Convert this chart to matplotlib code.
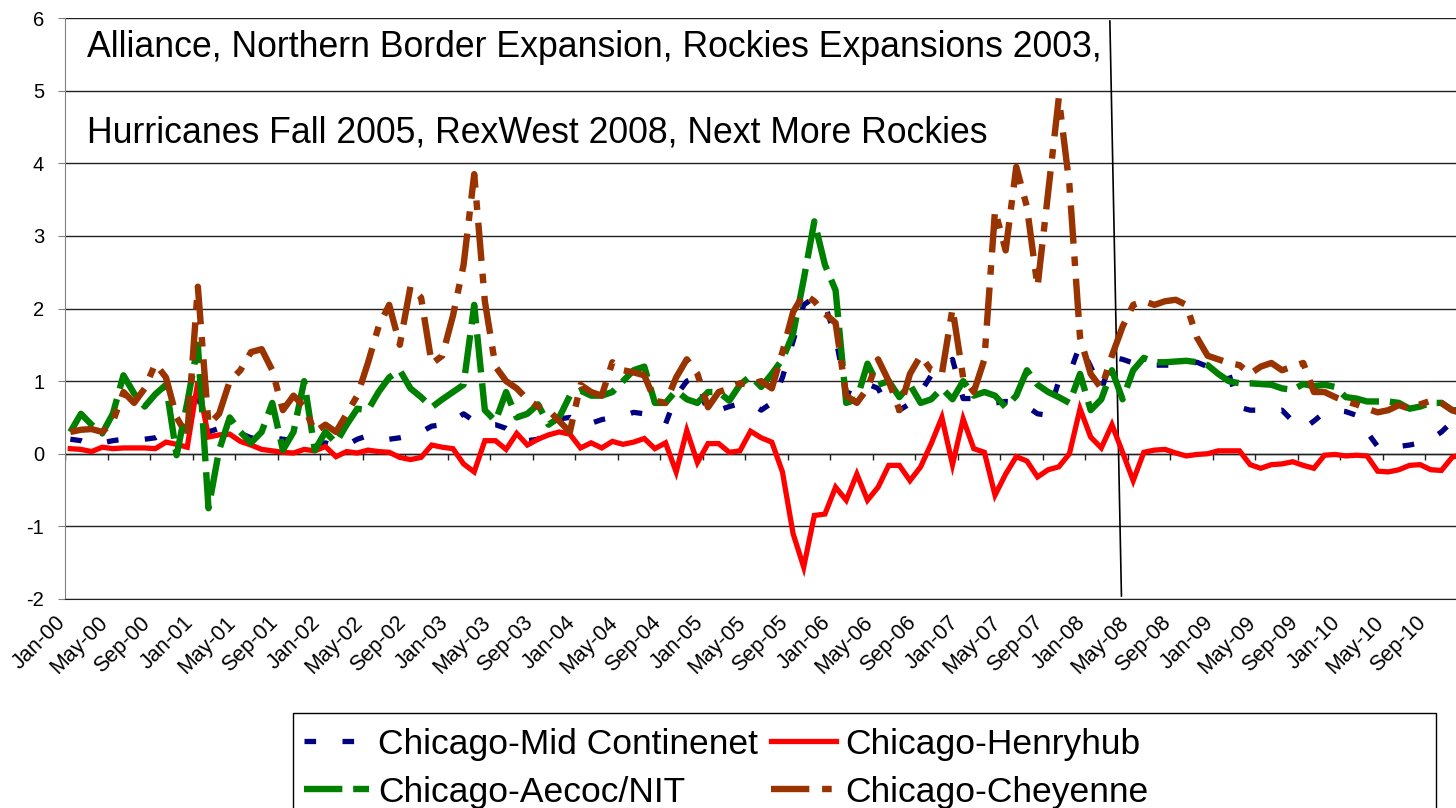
import numpy as np
import pandas as pd
import matplotlib
matplotlib.use('Agg')
import matplotlib.pyplot as plt
from matplotlib.patches import Rectangle
import matplotlib.transforms as mtransforms

plt.rcParams['font.family'] = ['Liberation Sans', 'DejaVu Sans']
plt.rcParams['axes.unicode_minus'] = False

# monthly categories Jan-00 .. Dec-10
months = pd.date_range('2000-01-01', periods=132, freq='MS').strftime('%b-%y').tolist()

mid_continent = [
    0.20, 0.18, 0.12, 0.15, 0.18, 0.20, 0.20, 0.20, 0.22, 0.30, 0.30, 0.35,
    0.80, 0.30, 0.35, 0.30, 0.28, 0.22, 0.20, 0.22, 0.20, 0.18, 0.15, 0.12,
    0.15, 0.10, 0.12, 0.20, 0.25, 0.22, 0.20, 0.22, 0.25, 0.30, 0.38, 0.40,
    0.45, 0.55, 0.45, 0.40, 0.40, 0.35, 0.25, 0.18, 0.20, 0.30, 0.48, 0.50,
    0.40, 0.42, 0.47, 0.50, 0.52, 0.57, 0.55, 0.50, 0.41, 0.80, 1.00, 1.05,
    0.54, 0.60, 0.65, 0.69, 0.70, 0.60, 0.70, 1.05, 1.55, 2.05, 2.15, 2.05,
    1.60, 0.85, 0.80, 0.96, 0.90, 0.62, 0.60, 0.69, 0.85, 1.08, 1.15, 1.30,
    0.76, 0.76, 0.75, 0.70, 0.72, 0.71, 0.65, 0.55, 0.53, 1.00, 1.10, 1.50,
    1.20, 0.87, 1.33, 1.30, 1.25, 1.24, 1.22, 1.22, 1.22, 1.24, 1.26, 1.20,
    1.15, 1.10, 0.64, 0.60, 0.60, 0.58, 0.60, 0.45, 0.34, 0.45, 0.57, 0.60,
    0.58, 0.53, 0.30, 0.10, 0.08, 0.10, 0.12, 0.15, 0.20, 0.30, 0.44, 0.50,
]

henryhub = [
    0.07, 0.06, 0.03, 0.09, 0.07, 0.08, 0.08, 0.08, 0.07, 0.16, 0.13, 0.09,
    0.99, 0.23, 0.26, 0.27, 0.17, 0.12, 0.06, 0.04, 0.02, 0.01, 0.06, 0.04,
    0.10, -0.04, 0.03, 0.01, 0.05, 0.03, 0.02, -0.05, -0.08, -0.05, 0.12, 0.09,
    0.07, -0.14, -0.25, 0.18, 0.18, 0.06, 0.28, 0.12, 0.20, 0.26, 0.30, 0.27,
    0.08, 0.15, 0.08, 0.17, 0.13, 0.16, 0.21, 0.07, 0.15, -0.25, 0.32, -0.12,
    0.14, 0.14, 0.02, 0.04, 0.31, 0.22, 0.16, -0.25, -1.10, -1.56, -0.85, -0.83,
    -0.46, -0.64, -0.28, -0.64, -0.46, -0.16, -0.16, -0.37, -0.18, 0.14, 0.50, -0.15,
    0.48, 0.07, 0.02, -0.57, -0.28, -0.04, -0.10, -0.32, -0.22, -0.18, 0.00, 0.62,
    0.23, 0.08, 0.40, 0.02, -0.37, 0.02, 0.05, 0.06, 0.01, -0.03, -0.01, 0.00,
    0.04, 0.04, 0.04, -0.15, -0.20, -0.15, -0.14, -0.11, -0.16, -0.20, -0.02, -0.01,
    -0.03, -0.02, -0.03, -0.24, -0.25, -0.22, -0.16, -0.15, -0.22, -0.23, -0.05, 0.00,
]

aeco_nit = [
    0.30, 0.55, 0.40, 0.28, 0.55, 1.08, 0.83, 0.65, 0.82, 0.95, -0.02, 0.70,
    1.50, -0.75, 0.05, 0.50, 0.30, 0.15, 0.30, 0.70, 0.05, 0.30, 1.00, 0.05,
    0.30, 0.15, 0.40, 0.62, 0.60, 0.85, 1.05, 1.15, 0.90, 0.78, 0.64, 0.75,
    0.85, 0.95, 2.05, 0.60, 0.45, 0.85, 0.50, 0.55, 0.68, 0.40, 0.50, 0.80,
    0.87, 0.80, 0.80, 0.85, 1.00, 1.15, 1.20, 0.70, 0.70, 0.87, 0.75, 0.70,
    0.85, 0.85, 0.73, 0.95, 1.07, 0.92, 1.10, 1.30, 1.65, 2.40, 3.20, 2.60,
    2.25, 0.70, 0.75, 1.24, 0.95, 1.00, 0.78, 0.95, 0.70, 0.75, 0.90, 0.75,
    1.00, 0.80, 0.85, 0.80, 0.64, 0.80, 1.15, 0.95, 0.85, 0.78, 0.70, 1.10,
    0.60, 0.75, 1.15, 0.75, 1.15, 1.32, 1.26, 1.26, 1.27, 1.28, 1.26, 1.22,
    1.10, 1.00, 0.97, 0.97, 0.96, 0.95, 0.90, 0.88, 0.96, 0.93, 0.95, 0.92,
    0.78, 0.76, 0.72, 0.72, 0.72, 0.70, 0.62, 0.65, 0.70, 0.70, 0.60, 0.60,
]

cheyenne = [
    0.30, 0.33, 0.34, 0.30, 0.44, 0.85, 0.70, 0.90, 1.24, 1.05, 0.50, 0.25,
    2.30, 0.40, 0.55, 1.00, 1.15, 1.40, 1.44, 1.15, 0.60, 0.80, 0.65, 0.30,
    0.40, 0.30, 0.55, 0.80, 1.25, 1.75, 2.05, 1.50, 2.30, 2.15, 1.24, 1.35,
    1.90, 2.60, 3.85, 2.10, 1.20, 1.00, 0.90, 0.75, 0.65, 0.60, 0.45, 0.30,
    0.95, 0.85, 0.80, 1.26, 1.15, 1.12, 1.08, 0.73, 0.70, 1.05, 1.30, 1.10,
    0.64, 0.85, 0.90, 0.97, 0.95, 1.00, 0.90, 1.40, 1.95, 2.20, 2.10, 1.93,
    1.80, 0.80, 0.70, 0.90, 1.30, 1.00, 0.60, 1.10, 1.35, 1.15, 1.10, 2.00,
    1.05, 0.85, 1.30, 3.35, 2.80, 3.95, 3.40, 2.30, 3.60, 4.90, 3.70, 1.60,
    1.10, 0.90, 1.35, 1.75, 2.05, 2.10, 2.05, 2.10, 2.12, 2.05, 1.60, 1.35,
    1.30, 1.25, 1.22, 1.10, 1.20, 1.25, 1.15, 1.20, 1.25, 0.85, 0.85, 0.78,
    0.72, 0.68, 0.62, 0.57, 0.60, 0.67, 0.62, 0.68, 0.73, 0.70, 0.60, 0.55,
]

note_lines = ['Alliance, Northern Border Expansion, Rockies Expansions 2003,',
              'Hurricanes Fall 2005, RexWest 2008, Next More Rockies']

W, H = 1456, 808
fig = plt.figure(figsize=(W / 100, H / 100), dpi=100)
left, right, top, bottom = 65, 1468, 18, 599
ax = fig.add_axes([left / W, 1 - bottom / H, (right - left) / W, (bottom - top) / H])

x = np.arange(len(months))
l_mid, = ax.plot(x, mid_continent, color='#000080', lw=3.8, dashes=(2.2, 5),
                 dash_capstyle='butt', label='Chicago-Mid Continenet', zorder=3)
l_hh, = ax.plot(x, henryhub, color='#ff0000', lw=3.8, solid_joinstyle='miter',
                label='Chicago-Henryhub', zorder=4)
l_aeco, = ax.plot(x, aeco_nit, color='#008000', lw=4.6, dashes=(6, 1.7),
                  dash_capstyle='butt', label='Chicago-Aecoc/NIT', zorder=5)
l_chey, = ax.plot(x, cheyenne, color='#993300', lw=4.6, dashes=(6, 2, 1.5, 2),
                  dash_capstyle='butt', label='Chicago-Cheyenne', zorder=6)

ax.set_xlim(-0.5, len(months) - 0.5)
ax.set_ylim(-2, 6)
ax.set_yticks(range(-2, 7))
ax.yaxis.grid(True, color='#222222', lw=1)
ax.set_axisbelow(True)
ax.tick_params(axis='y', labelsize=14.5, length=5, pad=10, color='#808080')

ax.set_xticks(x[::4])
ax.set_xticklabels(months[::4], fontsize=15.5)
ax.tick_params(axis='x', length=0, pad=15)
shift = mtransforms.ScaledTranslation(-8 / 100, 0, fig.dpi_scale_trans)
for lab in ax.get_xticklabels():
    lab.set_rotation(45)
    lab.set_ha('right')
    lab.set_va('center')
    lab.set_rotation_mode('anchor')
    lab.set_transform(lab.get_transform() + shift)

# category tick marks on the zero line
ax.vlines(np.arange(-0.5, len(months), 4), -0.09, 0, color='#222222', lw=1, zorder=2)
ax.axhline(0, color='#222222', lw=1, zorder=2)

for s in ['top', 'right']:
    ax.spines[s].set_visible(False)
ax.spines['left'].set_color('#808080')
ax.spines['bottom'].set_color('#222222')

ax.text(0.0157, 0.95, note_lines[0], transform=ax.transAxes, fontsize=25.7, va='center')
ax.text(0.0157, 0.802, note_lines[1], transform=ax.transAxes, fontsize=25.7, va='center')

# event marker line (spring 2008)
ax.annotate('', xy=(98.9, -2), xytext=(97.8, 6),
            arrowprops=dict(arrowstyle='-', color='black', lw=1.2), annotation_clip=False)

handles = [l_mid, l_aeco, l_hh, l_chey]
fig.legend(handles, [h.get_label() for h in handles], ncol=2, loc='upper left',
           bbox_to_anchor=(289 / W, 1 - 713 / H), frameon=False, fontsize=25.5,
           handlelength=1.85, handletextpad=0.25, columnspacing=0.35,
           labelspacing=0.42, borderpad=0.42, borderaxespad=0)
fig.add_artist(Rectangle((293 / W, -0.02), (1436 - 293) / W, (808 - 713) / H + 0.02,
                         transform=fig.transFigure, fill=False, ec='black', lw=1))

fig.savefig('out.png', dpi=100)
